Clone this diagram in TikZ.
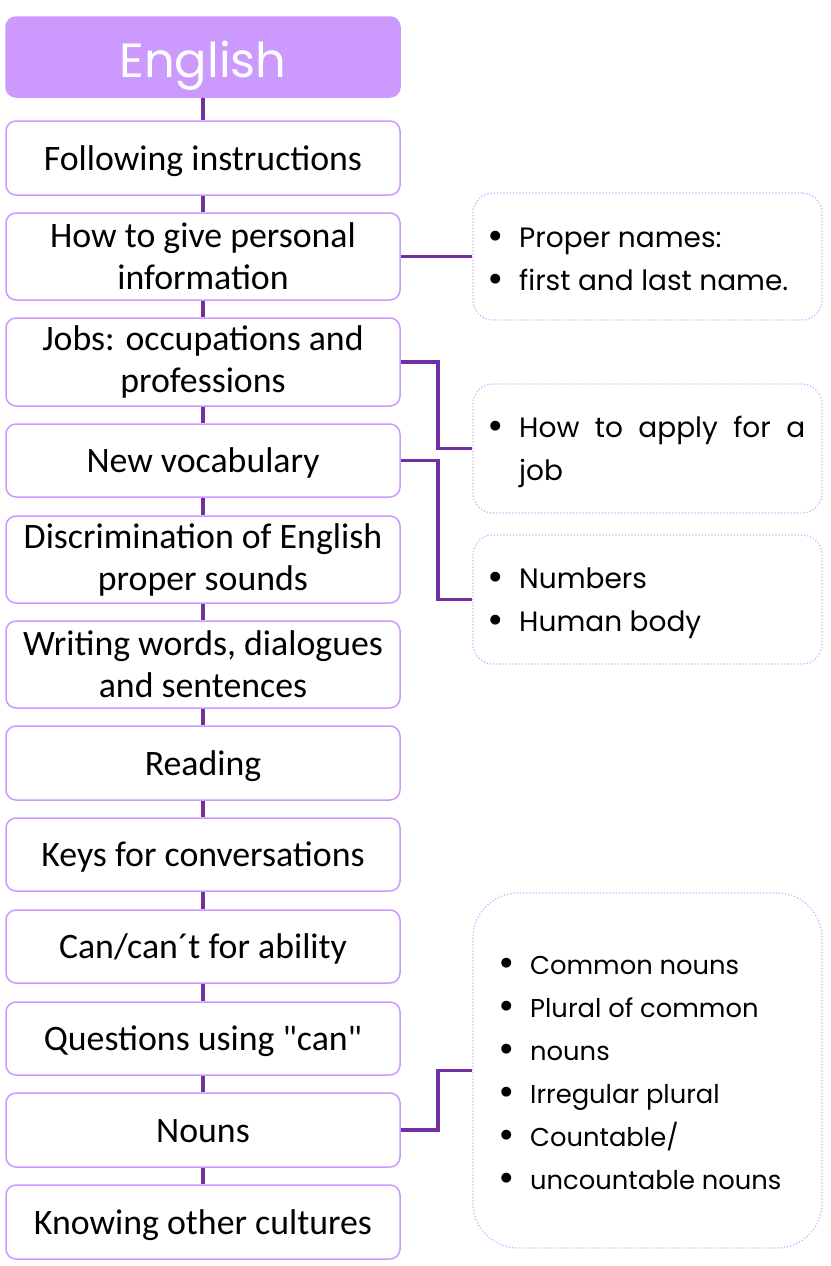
\documentclass[tikz,border=0pt]{standalone}
\usepackage{fontspec}
\setmainfont{Carlito}
\newfontfamily\geofont{Poppins}
\definecolor{lborder}{HTML}{CC99FF}
\definecolor{tfill}{HTML}{CC99FF}
\definecolor{conn}{HTML}{7030A0}
\definecolor{dotc}{HTML}{D4A8FF}
\newcommand\bul{\makebox[16pt][c]{\raisebox{-0.08em}{\fontsize{40}{43}\selectfont\textbullet}}\hspace{15pt}}
\newcommand\nobul{\hspace{31pt}}
\newcommand\sq{{\addfontfeatures{Ligatures=TeXOff}"}}
\begin{document}
\begin{tikzpicture}[x=1pt,y=-1pt,
  ltwo/.style={draw=lborder, line width=1.5pt, rounded corners=10pt, fill=white,
    minimum width=394pt, align=center, inner sep=0pt,
    font=\fontsize{35.8}{42}\selectfont, text=black},
  lbox/.style={ltwo, text height=24pt, text depth=0pt},
  tbox/.style={ltwo, fill=tfill, text=white, text height=40pt, text depth=0pt,
    font=\geofont\fontsize{48}{50}\selectfont},
  rbox/.style={draw=dotc, line width=1.2pt, dotted, rounded corners=20pt,
    minimum width=349pt, inner sep=0pt},
  rtext/.style={anchor=west, align=left, inner sep=0pt,
    font=\geofont\fontsize{28}{43}\selectfont, text=black},
  link/.style={draw=conn, line width=3.5pt}]
\useasboundingbox (0,0) rectangle (830,1266);
\fill[white] (0,0) rectangle (830,1266);
% left boxes
\node[tbox, minimum height=80pt] (t) at (203,57) {English};
\node[lbox, minimum height=74pt] (b1) at (203,158) {Following instructions};
\node[ltwo, minimum height=87pt] (b2) at (203,256.5) {How to give personal\\information};
\node[ltwo, minimum height=88pt] (b3) at (203,362) {Jobs: occupations and\\professions};
\node[lbox, minimum height=73pt] (b4) at (203,460.5) {New vocabulary};
\node[ltwo, minimum height=87pt] (b5) at (203,559.5) {Discrimination of English\\proper sounds};
\node[ltwo, minimum height=87pt] (b6) at (203,664.5) {Writing words, dialogues\\and sentences};
\node[lbox, minimum height=74pt] (b7) at (203,763) {Reading};
\node[lbox, minimum height=73pt] (b8) at (203,854.5) {Keys for conversations};
\node[lbox, minimum height=73pt] (b9) at (203,946.5) {Can/can´t for ability};
\node[lbox, minimum height=73pt] (b10) at (203,1038.5) {Questions using \sq can\sq};
\node[lbox, minimum height=74pt] (b11) at (203,1130) {Nouns};
\node[lbox, minimum height=74pt] (b12) at (203,1222) {Knowing other cultures};
% right boxes
\node[rbox, minimum height=127pt] (r1) at (647.5,256.5) {};
\node[rbox, minimum height=129pt] (r2) at (647.5,448.5) {};
\node[rbox, minimum height=129pt] (r3) at (647.5,599.5) {};
\node[rbox, minimum height=355pt, rounded corners=45pt] (r4) at (647.5,1070.5) {};
% texts in right boxes
\node[rtext] (r1t) at (488,260) {\bul Proper names:\\\bul first and last name.};
\node[rtext] (r2t) at (488,452) {\bul\makebox[286pt][s]{How to apply for a}\\\nobul job};
\node[rtext] (r3t) at (488,603) {\bul Numbers\\\bul Human body};
\node[rtext, font=\geofont\fontsize{25.8}{43}\selectfont] (r4t) at (499,1074) {\bul Common nouns\\\bul Plural of common\\\bul nouns\\\bul Irregular plural\\\bul Countable/\\\bul uncountable nouns};
% connectors
\foreach \a/\b in {t/b1,b1/b2,b2/b3,b3/b4,b4/b5,b5/b6,b6/b7,b7/b8,b8/b9,b9/b10,b10/b11,b11/b12}{
  \draw[link] (\a.south) -- (\b.north);
}
\draw[link] (b2.east) -- (r1.west);
\draw[link] (b3.east) -- ++(37,0) |- (r2.west);
\draw[link] (b4.east) -- ++(37,0) |- (r3.west);
\draw[link] (b11.east) -- ++(37,0) |- (r4.west);
\end{tikzpicture}
\end{document}
